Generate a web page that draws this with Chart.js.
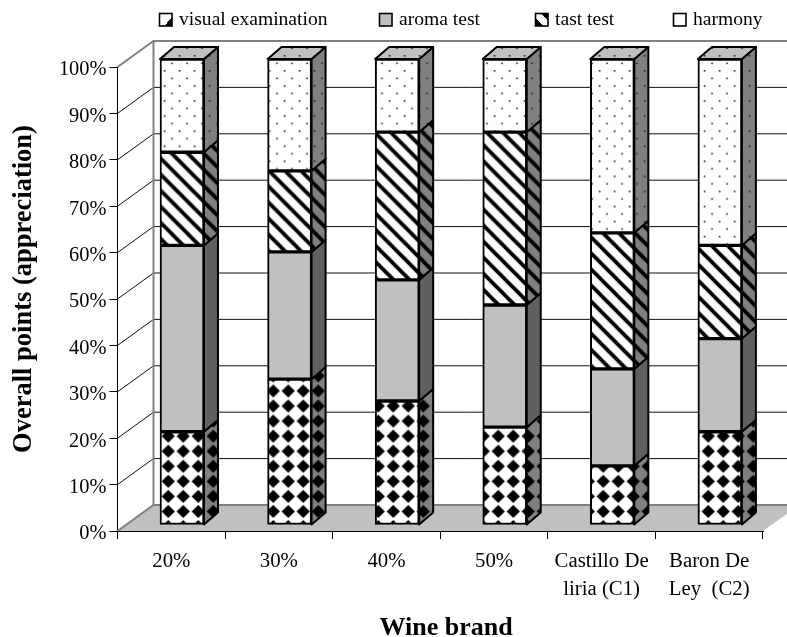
<!DOCTYPE html>
<html>
<head>
<meta charset="utf-8">
<style>
  html, body { margin: 0; padding: 0; background: #fff; }
  canvas { display: block; }
</style>
<script src="https://cdn.jsdelivr.net/npm/chart.js@4"></script>
</head>
<body>
<canvas id="chart" width="787" height="637"></canvas>
<script>
const categories = ['20%', '30%', '40%', '50%', ['Castillo De', 'liria (C1)'], ['Baron De', 'Ley  (C2)']];
const seriesNames = ['visual examination', 'aroma test', 'tast test', 'harmony'];
const visualValues = [20, 31.3, 26.6, 21, 12.7, 20];
const aromaValues = [40, 27.3, 26, 26.2, 20.8, 20];
const tastValues = [20, 17.4, 31.7, 37.1, 29.2, 20];
const harmonyValues = [20, 24, 15.7, 15.7, 37.3, 40];
const xTitle = 'Wine brand';
const yTitle = 'Overall points (appreciation)';
const legendX = [159, 379, 535, 673];

const SERIF = '"Liberation Serif", "Times New Roman", serif';
const WALL_DX = 36, WALL_DY = 26;     // задняя стенка относительно осей
const BAR_DX = 10.7, BAR_DY = -6;     // столбцы стоят глубже осей
const BAR_SCALE = 466 / 464;          // и чуть выше шкалы
const DEPTH_X = 14, DEPTH_Y = 12;     // глубина самого столбца

// Заливки-штриховки
function tile(size, bg, paint) {
  const c = document.createElement('canvas');
  c.width = c.height = size;
  const g = c.getContext('2d');
  g.fillStyle = bg;
  g.fillRect(0, 0, size, size);
  g.fillStyle = '#000';
  g.strokeStyle = '#000';
  paint(g, size);
  return g.createPattern(c, 'repeat');
}
function diamonds(bg) {
  return tile(15, bg, (g, s) => {
    g.beginPath();
    g.moveTo(s / 2, 0.9);
    g.lineTo(s - 0.9, s / 2);
    g.lineTo(s / 2, s - 0.9);
    g.lineTo(0.9, s / 2);
    g.closePath();
    g.fill();
  });
}
function stripes(bg) {
  return tile(16, bg, (g, s) => {
    g.lineWidth = 3.8;
    [-s, 0, s].forEach(o => {
      g.beginPath();
      g.moveTo(o - 2, -2);
      g.lineTo(o + s + 2, s + 2);
      g.stroke();
    });
  });
}
function dots(bg) {
  return tile(15, bg, (g, s) => {
    g.fillStyle = '#222';
    g.fillRect(3, 3, 1.6, 1.6);
    g.fillRect(10.5, 10.5, 1.6, 1.6);
  });
}

const frontFills = [diamonds('#fff'), '#c0c0c0', stripes('#fff'), dots('#fff')];
const sideFills = [diamonds('#808080'), '#606060', stripes('#808080'), dots('#808080')];
const topFill = dots('#c0c0c0');

// Стенка, пол и линии сетки за столбцами
const wallPlugin = {
  id: 'wall',
  beforeDatasetsDraw(chart) {
    const { ctx, chartArea: a, scales: { y } } = chart;
    const bottom = y.getPixelForValue(0), top = y.getPixelForValue(100);
    ctx.save();
    ctx.fillStyle = '#c0c0c0';
    ctx.beginPath();
    ctx.moveTo(a.left, bottom);
    ctx.lineTo(a.left + WALL_DX, bottom - WALL_DY);
    ctx.lineTo(a.right + WALL_DX, bottom - WALL_DY);
    ctx.lineTo(a.right, bottom);
    ctx.closePath();
    ctx.fill();

    y.ticks.forEach(t => {
      const py = y.getPixelForValue(t.value);
      const edge = t.value === 0 || t.value === 100;
      ctx.strokeStyle = edge ? '#808080' : '#111';
      ctx.lineWidth = edge ? 2 : 1;
      ctx.beginPath();
      ctx.moveTo(a.left, py);
      ctx.lineTo(a.left + WALL_DX, py - WALL_DY);
      ctx.lineTo(chart.width, py - WALL_DY);
      ctx.stroke();
    });
    ctx.strokeStyle = '#808080';
    ctx.lineWidth = 2;
    ctx.beginPath();
    ctx.moveTo(a.left + WALL_DX, top - WALL_DY);
    ctx.lineTo(a.left + WALL_DX, bottom - WALL_DY);
    ctx.stroke();
    ctx.restore();

    // столбцы рисуются со сдвигом вглубь
    ctx.save();
    ctx.translate(BAR_DX, BAR_DY + bottom * (1 - BAR_SCALE));
    ctx.scale(1, BAR_SCALE);
  },
  afterDatasetsDraw(chart) {
    const { ctx } = chart;
    ctx.lineWidth = 2;
    ctx.strokeStyle = '#000';
    ctx.lineJoin = 'round';
    chart.data.datasets.forEach((ds, i) => {
      chart.getDatasetMeta(i).data.forEach(bar => {
        const right = bar.x + bar.width / 2, left = bar.x - bar.width / 2;
        ctx.fillStyle = sideFills[i];
        ctx.beginPath();
        ctx.moveTo(right, bar.base);
        ctx.lineTo(right + DEPTH_X, bar.base - DEPTH_Y);
        ctx.lineTo(right + DEPTH_X, bar.y - DEPTH_Y);
        ctx.lineTo(right, bar.y);
        ctx.closePath();
        ctx.fill();
        ctx.stroke();
        if (i === chart.data.datasets.length - 1) {
          ctx.fillStyle = topFill;
          ctx.beginPath();
          ctx.moveTo(left, bar.y);
          ctx.lineTo(left + DEPTH_X, bar.y - DEPTH_Y);
          ctx.lineTo(right + DEPTH_X, bar.y - DEPTH_Y);
          ctx.lineTo(right, bar.y);
          ctx.closePath();
          ctx.fill();
          ctx.stroke();
        }
      });
    });
    ctx.restore();
  }
};

// Значок легенды: половинки вместо мелкой штриховки
function legendSwatch(ctx, i, x, y, s) {
  if (i === 1) return '#c0c0c0';
  if (i === 3) return '#fff';
  const g = i === 0
    ? ctx.createLinearGradient(x, y, x + s, y + s)
    : ctx.createLinearGradient(x + s, y, x, y + s);
  const stops = i === 0
    ? [[0, '#fff'], [0.68, '#fff'], [0.68, '#000'], [1, '#000']]
    : [[0, '#000'], [0.3, '#000'], [0.3, '#fff'], [0.7, '#fff'], [0.7, '#000'], [1, '#000']];
  stops.forEach(st => g.addColorStop(st[0], st[1]));
  return g;
}

// Легенда стоит неровно, а подписи осей смещены от центра, поэтому рисуем их сами
const textPlugin = {
  id: 'texts',
  afterDraw(chart) {
    const { ctx } = chart;
    ctx.save();
    ctx.textBaseline = 'alphabetic';
    ctx.font = '19.6px ' + SERIF;
    chart.data.datasets.forEach((ds, i) => {
      const x = legendX[i];
      ctx.fillStyle = legendSwatch(ctx, i, x + 0.5, 13.5, 12.5);
      ctx.fillRect(x + 0.5, 13.5, 12.5, 12.5);
      ctx.strokeStyle = '#000';
      ctx.lineWidth = 1.6;
      ctx.strokeRect(x + 0.5, 13.5, 12.5, 12.5);
      ctx.fillStyle = '#000';
      ctx.fillText(ds.label, x + 20, 25);
    });

    ctx.fillStyle = '#000';
    ctx.textAlign = 'center';
    ctx.font = 'bold 26px ' + SERIF;
    ctx.fillText(xTitle, 446, 635);
    ctx.translate(31, 289);
    ctx.rotate(-Math.PI / 2);
    ctx.font = 'bold 26.5px ' + SERIF;
    ctx.fillText(yTitle, 0, 0);
    ctx.restore();
  }
};

const datasets = seriesNames.map((name, i) => ({
  label: name,
  data: [visualValues, aromaValues, tastValues, harmonyValues][i],
  backgroundColor: frontFills[i],
  borderColor: '#000',
  borderWidth: 2,
  borderSkipped: false,
  barThickness: 44,
  clip: false
}));

new Chart(document.getElementById('chart'), {
  type: 'bar',
  data: { labels: categories, datasets },
  plugins: [wallPlugin, textPlugin],
  options: {
    responsive: false,
    animation: false,
    layout: { padding: { top: 67, right: 24, left: 0, bottom: 0 } },
    plugins: { legend: { display: false }, tooltip: { enabled: false } },
    scales: {
      x: {
        stacked: true,
        afterFit: s => { s.height = 106; },
        border: { color: '#000', width: 1 },
        grid: { drawOnChartArea: false, tickLength: 8, color: '#000' },
        ticks: { color: '#000', maxRotation: 0, autoSkip: false, padding: 8, font: { family: SERIF, size: 20.8, lineHeight: 1.35 } }
      },
      y: {
        stacked: true,
        min: 0,
        max: 100,
        afterFit: s => { s.width = 117.5; },
        border: { color: '#000', width: 1 },
        grid: { drawOnChartArea: false, tickLength: 8, color: '#000' },
        ticks: { stepSize: 10, color: '#000', padding: 3, labelOffset: 3, callback: v => v + '%', font: { family: SERIF, size: 20.4 } }
      }
    }
  }
});
</script>
</body>
</html>
